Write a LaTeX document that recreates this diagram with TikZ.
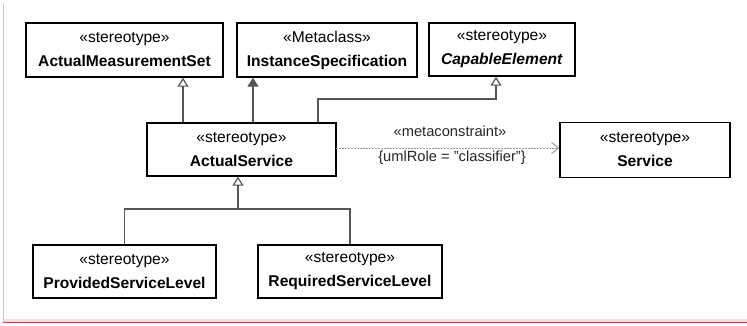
\documentclass[tikz,border=0pt]{standalone}
\usepackage{fontspec}
\setmainfont{Liberation Sans}
\usetikzlibrary{arrows.meta}
\definecolor{conn}{HTML}{555555}
\definecolor{dashc}{HTML}{999999}
\definecolor{framepink}{HTML}{F2B8C0}
\definecolor{bandpink}{HTML}{FADCE0}
\definecolor{framered}{HTML}{DD3040}
\tikzset{
  umlbox/.style={draw=black, line width=1.4pt, fill=white, inner sep=0pt,
    align=center, font=\fontsize{15.6}{24}\selectfont},
  gen/.style={draw=conn, line width=1.4pt, -{Triangle[open, length=9pt, width=11pt, line width=1.2pt]}},
  genfill/.style={draw=conn, line width=1.4pt, -{Triangle[length=9pt, width=11pt]}},
  genline/.style={draw=conn, line width=1.4pt},
  dep/.style={draw=dashc, line width=1pt, dash pattern=on 2pt off 1pt, -{Straight Barb[length=7pt, width=11pt, line width=1pt]}},
  edgelabel/.style={font=\fontsize{14.7}{17}\selectfont, text=black!85}
}
\begin{document}
\begin{tikzpicture}[x=1pt, y=-1pt]
\useasboundingbox (0,0) rectangle (747,325);
% frame
\fill[bandpink] (3,319) rectangle (747,322);
\draw[framepink, line width=1pt] (3.5,3) -- (3.5,322);
\draw[framered, line width=1.2pt] (3,322.8) -- (747,322.8);
% boxes
\node[umlbox, minimum width=197pt, minimum height=54pt] (ams) at (124.5,50) {«stereotype»\\\textbf{ActualMeasurementSet}};
\node[umlbox, minimum width=180pt, minimum height=54pt] (is) at (327,50) {«Metaclass»\\\textbf{InstanceSpecification}};
\node[umlbox, minimum width=146pt, minimum height=53pt] (ce) at (502,49.5) {«stereotype»\\\textbf{\textit{CapableElement}}};
\node[umlbox, minimum width=189pt, minimum height=53pt] (as) at (241.5,149.5) {«stereotype»\\\textbf{ActualService}};
\node[umlbox, minimum width=170pt, minimum height=55pt] (svc) at (645,150) {«stereotype»\\\textbf{Service}};
\node[umlbox, minimum width=183pt, minimum height=53pt] (psl) at (124.5,271.5) {«stereotype»\\\textbf{ProvidedServiceLevel}};
\node[umlbox, minimum width=184pt, minimum height=53pt] (rsl) at (350,271.5) {«stereotype»\\\textbf{RequiredServiceLevel}};
% generalizations from ActualService
\draw[gen] (as.north -| 183,0) -- (ams.south -| 183,0);
\draw[genfill] (as.north -| 253,0) -- (is.south -| 253,0);
\coordinate (bendce1) at (318,99);
\coordinate (bendce2) at (496,99);
\draw[gen] (as.north -| bendce1) -- (bendce1) -- (bendce2) -- (ce.south -| bendce2);
% children generalization
\coordinate (join) at (238,209);
\draw[genline] (psl.north) |- (join);
\draw[genline] (rsl.north) |- (join);
\draw[gen] (join) -- (as.south -| join);
% metaconstraint
\coordinate (depstart) at (336,148);
\draw[dep] (depstart) -- (svc.west |- depstart);
\node[edgelabel] (mclabel) at (450,131.5) {«metaconstraint»};
\node[edgelabel] (rolelabel) at (452,158) {\{umlRole = "classifier"\}};
\end{tikzpicture}
\end{document}
